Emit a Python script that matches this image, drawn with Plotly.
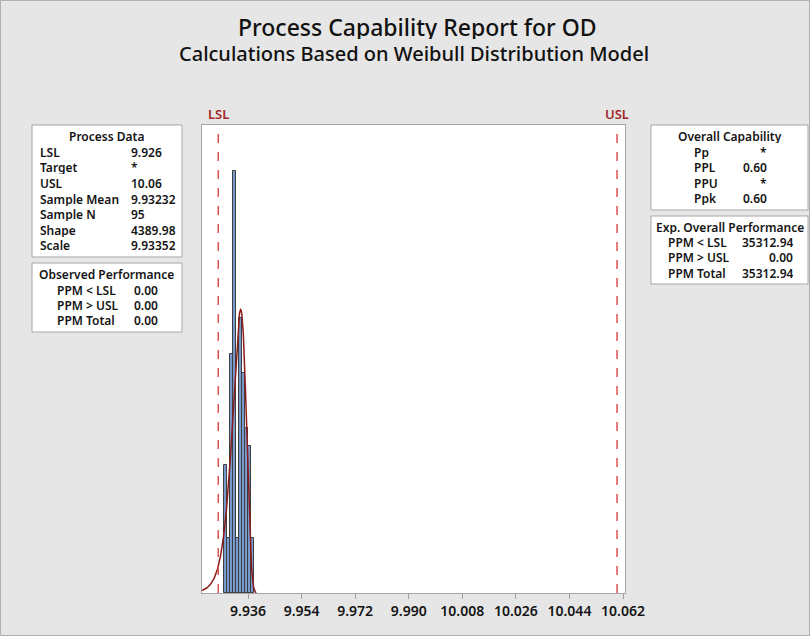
import numpy as np
import plotly.graph_objects as go

# ---- data ----
bin_centers = [9.9285, 9.9295, 9.9305, 9.9315, 9.9325, 9.9335, 9.9345, 9.9355, 9.9365, 9.9375]
bin_counts = [7, 3, 13, 23, 3, 15, 12, 9, 8, 3]
bin_width = 0.001
lsl = 9.926
usl = 10.06
shape_k = 4389.98
scale_lam = 9.93352
sample_n = 95
tick_values = [9.936, 9.954, 9.972, 9.990, 10.008, 10.026, 10.044, 10.062]
tick_labels = ["9.936", "9.954", "9.972", "9.990", "10.008", "10.026", "10.044", "10.062"]

process_data_labels = ["LSL", "Target", "USL", "Sample Mean", "Sample N", "Shape", "Scale"]
process_data_values = ["9.926", "*", "10.06", "9.93232", "95", "4389.98", "9.93352"]
observed_labels = ["PPM < LSL", "PPM > USL", "PPM Total"]
observed_values = ["0.00", "0.00", "0.00"]
overall_cap_labels = ["Pp", "PPL", "PPU", "Ppk"]
overall_cap_values = ["*", "0.60", "*", "0.60"]
exp_perf_labels = ["PPM < LSL", "PPM > USL", "PPM Total"]
exp_perf_values = ["35312.94", "0.00", "35312.94"]

# ---- fitted Weibull curve (from shown shape/scale) ----
xc = np.linspace(9.9205, 9.9388, 600)
z = xc / scale_lam
pdf = (shape_k / scale_lam) * np.exp((shape_k - 1) * np.log(z) - z ** shape_k)
yc = pdf * sample_n * bin_width

W, H = 810, 636
X0, X1, Y0, Y1 = 202, 625, 125, 593
def px(x):
    return (x - X0) / (X1 - X0)
def py(y):
    return (Y1 - y) / (Y1 - Y0)

FONT = "Noto Sans"
TXT = "#141414"

fig = go.Figure()
fig.add_trace(go.Bar(x=bin_centers, y=bin_counts, width=bin_width,
                     marker=dict(color="#7799cc", line=dict(color="#3f3f3f", width=1)),
                     hoverinfo="skip"))
fig.add_trace(go.Scatter(x=xc, y=yc, mode="lines", line=dict(color="#8c1c1c", width=1.5),
                         hoverinfo="skip"))

shapes = []
annos = []
for v, name in [(lsl, "LSL"), (usl, "USL")]:
    shapes.append(dict(type="line", xref="x", yref="paper", x0=v, x1=v, y0=0, y1=1,
                       line=dict(color="#d9534f", width=1.5, dash="dash")))
    annos.append(dict(x=v, xref="x", y=py(114), yref="paper", text=name, showarrow=False,
                      font=dict(family=FONT, size=13, color="#a3262a", weight=600),
                      xanchor="center", yanchor="middle"))

# outer frame
shapes.append(dict(type="rect", xref="paper", yref="paper", x0=px(0.5), x1=px(809.5), y0=py(0.5), y1=py(635.5),
                   line=dict(color="#b0b0b0", width=1), fillcolor="rgba(0,0,0,0)", layer="below"))

def box(x0, y0, x1, y1):
    shapes.append(dict(type="rect", xref="paper", yref="paper", x0=px(x0), x1=px(x1), y0=py(y1), y1=py(y0),
                       line=dict(color="#a6a6a6", width=1), fillcolor="white", layer="above"))

def text(x, y, s, anchor="left", size=12):
    annos.append(dict(x=px(x), y=py(y), xref="paper", yref="paper", text=s, showarrow=False,
                      xanchor=anchor, yanchor="middle", height=13, borderpad=0,
                      font=dict(family=FONT, size=size, color=TXT, weight=600)))

# Process Data
box(32, 125, 182, 257)
text(106, 136, "Process Data", "center")
for i, (lab, val) in enumerate(zip(process_data_labels, process_data_values)):
    y = 152.3 + i * 15.6
    text(39, y, lab)
    text(130, y, val)

# Observed Performance
box(32, 263, 182, 332)
text(106, 274, "Observed Performance", "center")
for i, (lab, val) in enumerate(zip(observed_labels, observed_values)):
    y = 290 + i * 15.4
    text(56, y, lab)
    text(133, y, val)

# Overall Capability
box(651, 125, 808, 210)
text(730, 136.5, "Overall Capability", "center")
for i, (lab, val) in enumerate(zip(overall_cap_labels, overall_cap_values)):
    y = 152.3 + i * 15.5
    text(693, y, lab)
    text(768, y, val, "right")

# Exp. Overall Performance
box(651, 216, 808, 284)
text(730, 227, "Exp. Overall Performance", "center")
for i, (lab, val) in enumerate(zip(exp_perf_labels, exp_perf_values)):
    y = 242.3 + i * 15.4
    text(667, y, lab)
    text(794, y, val, "right")

# titles
annos.append(dict(x=px(417), y=py(27), xref="paper", yref="paper", text="Process Capability Report for OD",
                  showarrow=False, xanchor="center", yanchor="middle", height=24, borderpad=0,
                  font=dict(family=FONT, size=23, color="#111", weight=500)))
annos.append(dict(x=px(414), y=py(53), xref="paper", yref="paper", text="Calculations Based on Weibull Distribution Model",
                  showarrow=False, xanchor="center", yanchor="middle", height=21, borderpad=0,
                  font=dict(family=FONT, size=20, color="#111", weight=500)))

fig.update_layout(
    width=W, height=H,
    margin=dict(l=X0, r=W - X1, t=Y0, b=H - Y1),
    paper_bgcolor="#e6e6e6", plot_bgcolor="white",
    showlegend=False, bargap=0,
    shapes=shapes, annotations=annos,
    xaxis=dict(range=[9.92054, 10.06267], tickvals=tick_values, ticktext=tick_labels,
               ticks="outside", ticklen=5, tickcolor="#a0a0a0", showgrid=False, zeroline=False,
               showline=True, linecolor="#a6a6a6", mirror=True,
               tickfont=dict(family=FONT, size=14, color=TXT, weight=600)),
    yaxis=dict(range=[0, 25.5], showticklabels=False, showgrid=False, zeroline=False, ticks="",
               showline=True, linecolor="#a6a6a6", mirror=True),
)

fig.write_html("out.html")
